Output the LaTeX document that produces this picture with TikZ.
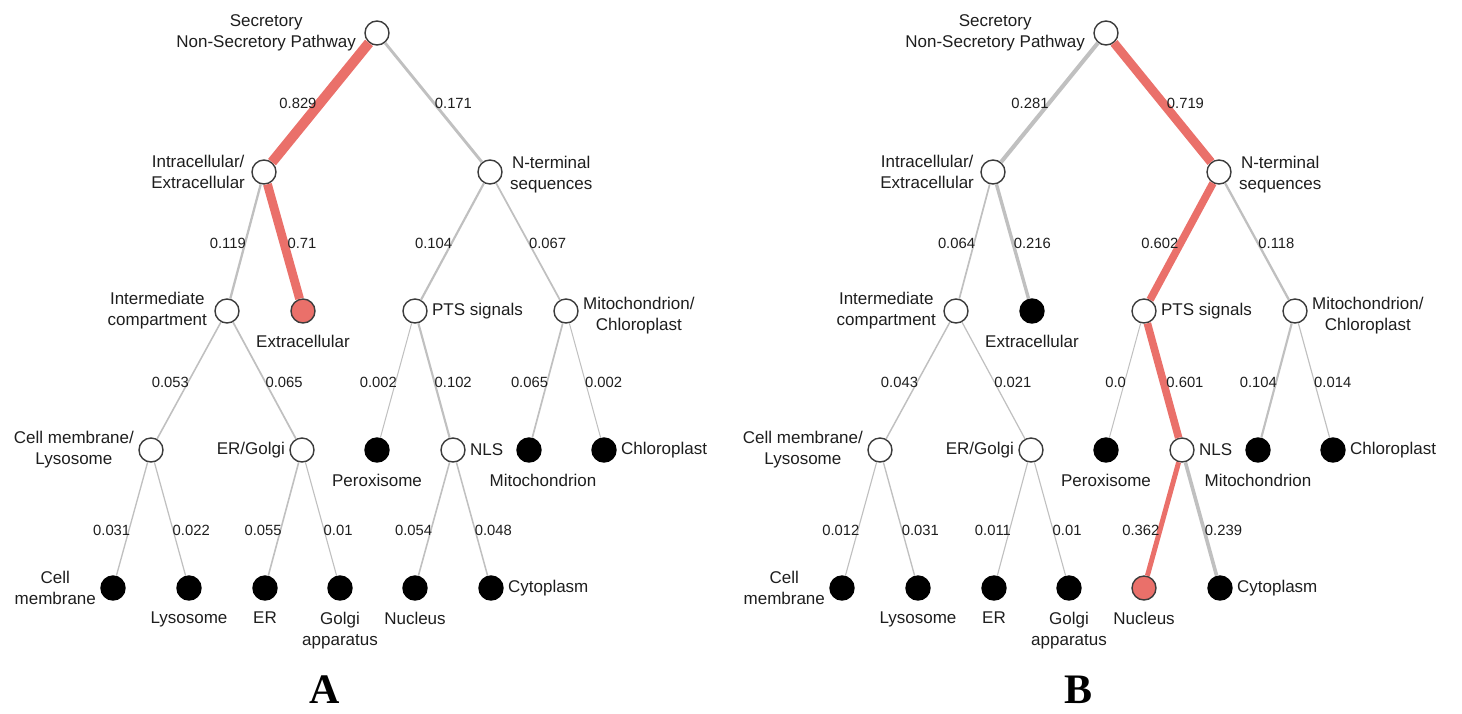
\documentclass[tikz,border=0pt]{standalone}
\usepackage{fontspec}
\setmainfont{Liberation Sans}
\newfontfamily\panelfont{Liberation Serif}
\usetikzlibrary{positioning}
\definecolor{hitred}{RGB}{234,112,106}
\definecolor{linkgrey}{RGB}{192,192,192}
\definecolor{ringgrey}{RGB}{60,60,60}
\definecolor{inkgrey}{RGB}{30,30,30}

\begin{document}
\begin{tikzpicture}[
    x=0.5pt, y=-0.5pt,
    inner/.style={circle, draw=ringgrey, fill=white, line width=0.7pt,
                  minimum size=12pt, inner sep=0pt},
    leaf/.style={inner, fill=black, draw=black},
    hit/.style={inner, fill=hitred, draw=ringgrey},
    lab/.style={inner sep=0pt, align=center, text=inkgrey,
                font=\fontsize{8.5}{10.5}\selectfont},
    link/.style={draw=linkgrey, line width={0.5pt+5.5pt*#1}},
    hot/.style={draw=hitred, line width={0.5pt+5.5pt*#1}},
    prob/.style={inner sep=0pt, text=inkgrey, font=\fontsize{7.4}{8}\selectfont},
    pl/.style={prob, anchor=east, xshift=1pt},
    pr/.style={prob, anchor=west, xshift=-0.5pt},
    panel/.style={anchor=base, inner sep=0pt,
                  font=\panelfont\bfseries\fontsize{21}{24}\selectfont}
]
\useasboundingbox (0,0) rectangle (1462,713);

% ---- tree A ----
\node[inner] (rA)  at (377,33)  {};
\node[inner] (iA)  at (264,172) {};
\node[inner] (nA)  at (490,172) {};
\node[inner] (mA)  at (227,311) {};
\node[hit]   (eA)  at (303,311) {};
\node[inner] (pA)  at (415,311) {};
\node[inner] (cA)  at (566,311) {};
\node[inner] (lA)  at (151,450) {};
\node[inner] (gA)  at (302,450) {};
\node[leaf]  (xA)  at (377,450) {};
\node[inner] (sA)  at (453,450) {};
\node[leaf]  (tA)  at (529,450) {};
\node[leaf]  (hA)  at (604,450) {};
\node[leaf]  (cmA) at (113,588) {};
\node[leaf]  (lyA) at (189,588) {};
\node[leaf]  (erA) at (265,588) {};
\node[leaf]  (goA) at (340,588) {};
\node[leaf]  (nuA) at (415,588) {};
\node[leaf]  (cyA) at (491,588) {};

\node[lab, left=4pt of rA]  {Secretory\\Non-Secretory Pathway};
\node[lab, left=3pt of iA]  {Intracellular/\\Extracellular};
\node[lab, right=3.5pt of nA, yshift=-1.5pt] {N-terminal\\sequences};
\node[lab, left=3.5pt of mA] {Intermediate\\compartment};
\node[lab, below=5.5pt of eA]  {Extracellular};
\node[lab, right=2pt of pA]  {PTS signals};
\node[lab, right=2pt of cA, yshift=-2.5pt] {Mitochondrion/\\Chloroplast};
\node[lab, left=2pt of lA]   {Cell membrane/\\Lysosome};
\node[lab, left=2pt of gA]   {ER/Golgi};
\node[lab, below=5.5pt of xA]  {Peroxisome};
\node[lab, right=2pt of sA]  {NLS};
\node[lab, below=5.5pt of tA, xshift=7pt] {Mitochondrion};
\node[lab, right=2pt of hA]  {Chloroplast};
\node[lab, left=2pt of cmA]  {Cell\\membrane};
\node[lab, below=5.5pt of lyA] {Lysosome};
\node[lab, below=5.5pt of erA] {ER};
\node[lab, below=5.5pt of goA] {Golgi\\apparatus};
\node[lab, below=5.5pt of nuA] {Nucleus};
\node[lab, right=2pt of cyA] {Cytoplasm};

\draw[hot=0.829]  (rA) -- node[pl, pos=.51]{0.829} (iA);
\draw[link=0.171] (rA) -- node[pr, pos=.51]{0.171} (nA);
\draw[link=0.119] (iA) -- node[pl, pos=.52]{0.119} (mA);
\draw[hot=0.71]   (iA) -- node[pr, pos=.52]{0.71} (eA);
\draw[link=0.104] (nA) -- node[pl, pos=.52]{0.104} (pA);
\draw[link=0.067] (nA) -- node[pr, pos=.52]{0.067} (cA);
\draw[link=0.053] (mA) -- node[pl, pos=.52]{0.053} (lA);
\draw[link=0.065] (mA) -- node[pr, pos=.52]{0.065} (gA);
\draw[link=0.002] (pA) -- node[pl, pos=.52]{0.002} (xA);
\draw[link=0.102] (pA) -- node[pr, pos=.52]{0.102} (sA);
\draw[link=0.065] (cA) -- node[pl, pos=.52]{0.065} (tA);
\draw[link=0.002] (cA) -- node[pr, pos=.52]{0.002} (hA);
\draw[link=0.031] (lA) -- node[pl, pos=.6]{0.031} (cmA);
\draw[link=0.022] (lA) -- node[pr, pos=.6]{0.022} (lyA);
\draw[link=0.055] (gA) -- node[pl, pos=.6]{0.055} (erA);
\draw[link=0.01]  (gA) -- node[pr, pos=.6]{0.01} (goA);
\draw[link=0.054] (sA) -- node[pl, pos=.6]{0.054} (nuA);
\draw[link=0.048] (sA) -- node[pr, pos=.6]{0.048} (cyA);

\node[panel] (panA) at (325,703) {A};

% ---- tree B ----
\node[inner] (rB)  at (1106,33)  {};
\node[inner] (iB)  at (993,172)  {};
\node[inner] (nB)  at (1219,172) {};
\node[inner] (mB)  at (956,311)  {};
\node[leaf]  (eB)  at (1032,311) {};
\node[inner] (pB)  at (1144,311) {};
\node[inner] (cB)  at (1295,311) {};
\node[inner] (lB)  at (880,450)  {};
\node[inner] (gB)  at (1031,450) {};
\node[leaf]  (xB)  at (1106,450) {};
\node[inner] (sB)  at (1182,450) {};
\node[leaf]  (tB)  at (1258,450) {};
\node[leaf]  (hB)  at (1333,450) {};
\node[leaf]  (cmB) at (842,588)  {};
\node[leaf]  (lyB) at (918,588)  {};
\node[leaf]  (erB) at (994,588)  {};
\node[leaf]  (goB) at (1069,588) {};
\node[hit]   (nuB) at (1144,588) {};
\node[leaf]  (cyB) at (1220,588) {};

\node[lab, left=4pt of rB]  {Secretory\\Non-Secretory Pathway};
\node[lab, left=3pt of iB]  {Intracellular/\\Extracellular};
\node[lab, right=3.5pt of nB, yshift=-1.5pt] {N-terminal\\sequences};
\node[lab, left=3.5pt of mB] {Intermediate\\compartment};
\node[lab, below=5.5pt of eB]  {Extracellular};
\node[lab, right=2pt of pB]  {PTS signals};
\node[lab, right=2pt of cB, yshift=-2.5pt] {Mitochondrion/\\Chloroplast};
\node[lab, left=2pt of lB]   {Cell membrane/\\Lysosome};
\node[lab, left=2pt of gB]   {ER/Golgi};
\node[lab, below=5.5pt of xB]  {Peroxisome};
\node[lab, right=2pt of sB]  {NLS};
\node[lab, below=5.5pt of tB]  {Mitochondrion};
\node[lab, right=2pt of hB]  {Chloroplast};
\node[lab, left=2pt of cmB]  {Cell\\membrane};
\node[lab, below=5.5pt of lyB] {Lysosome};
\node[lab, below=5.5pt of erB] {ER};
\node[lab, below=5.5pt of goB] {Golgi\\apparatus};
\node[lab, below=5.5pt of nuB] {Nucleus};
\node[lab, right=2pt of cyB] {Cytoplasm};

\draw[link=0.281] (rB) -- node[pl, pos=.51]{0.281} (iB);
\draw[hot=0.719]  (rB) -- node[pr, pos=.51]{0.719} (nB);
\draw[link=0.064] (iB) -- node[pl, pos=.52]{0.064} (mB);
\draw[link=0.216] (iB) -- node[pr, pos=.52]{0.216} (eB);
\draw[hot=0.602]  (nB) -- node[pl, pos=.52]{0.602} (pB);
\draw[link=0.118] (nB) -- node[pr, pos=.52]{0.118} (cB);
\draw[link=0.043] (mB) -- node[pl, pos=.52]{0.043} (lB);
\draw[link=0.021] (mB) -- node[pr, pos=.52]{0.021} (gB);
\draw[link=0.0]   (pB) -- node[pl, pos=.52]{0.0} (xB);
\draw[hot=0.601]  (pB) -- node[pr, pos=.52]{0.601} (sB);
\draw[link=0.104] (cB) -- node[pl, pos=.52]{0.104} (tB);
\draw[link=0.014] (cB) -- node[pr, pos=.52]{0.014} (hB);
\draw[link=0.012] (lB) -- node[pl, pos=.6]{0.012} (cmB);
\draw[link=0.031] (lB) -- node[pr, pos=.6]{0.031} (lyB);
\draw[link=0.011] (gB) -- node[pl, pos=.6]{0.011} (erB);
\draw[link=0.01]  (gB) -- node[pr, pos=.6]{0.01} (goB);
\draw[hot=0.362]  (sB) -- node[pl, pos=.6]{0.362} (nuB);
\draw[link=0.239] (sB) -- node[pr, pos=.6]{0.239} (cyB);

\node[panel] (panB) at (1078,703) {B};
\end{tikzpicture}
\end{document}
